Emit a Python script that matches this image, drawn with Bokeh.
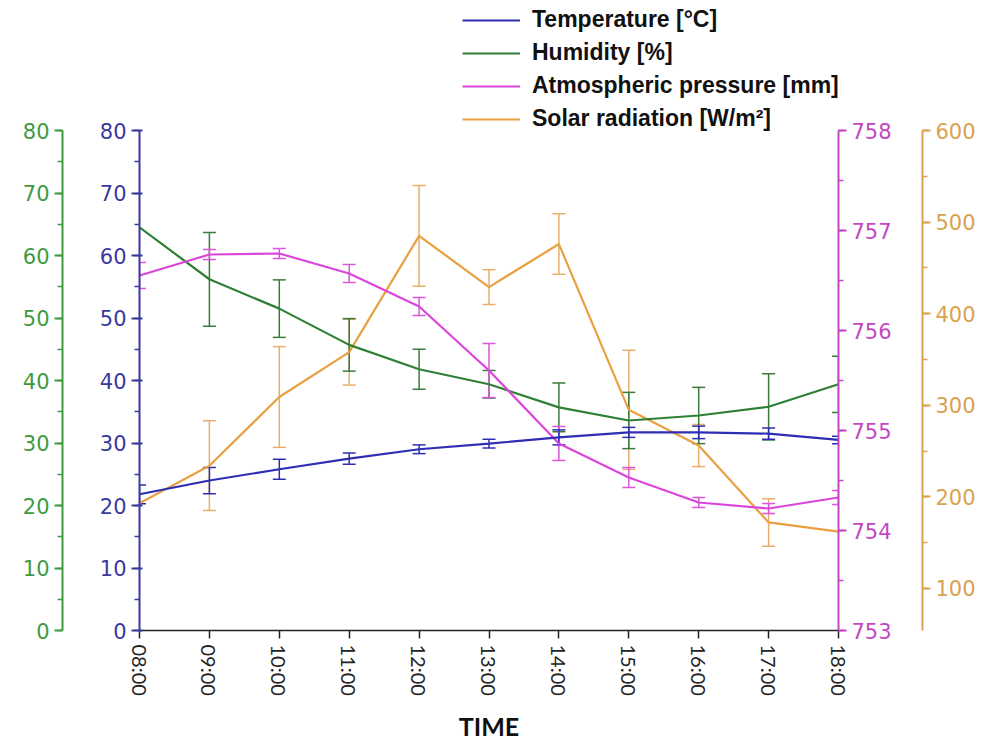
from bokeh.plotting import figure
from bokeh.models import (Range1d, LinearAxis, Whisker, TeeHead, ColumnDataSource,
                          Legend, LegendItem, FixedTicker, SingleIntervalTicker)
from bokeh.layouts import row
from bokeh.embed import file_html
from bokeh.resources import INLINE

hours = [8, 9, 10, 11, 12, 13, 14, 15, 16, 17, 18]
time_labels = ["08:00", "09:00", "10:00", "11:00", "12:00", "13:00",
               "14:00", "15:00", "16:00", "17:00", "18:00"]
temperature = [21.8, 24.0, 25.8, 27.5, 29.0, 29.9, 30.9, 31.7, 31.7, 31.5, 30.5]
temperature_err = [1.5, 2.1, 1.6, 0.9, 0.7, 0.7, 1.2, 0.8, 1.0, 0.9, 0.6]
humidity = [64.5, 56.2, 51.5, 45.7, 41.8, 39.4, 35.7, 33.6, 34.4, 35.8, 39.4]
humidity_err = [0, 7.5, 4.6, 4.2, 3.2, 2.2, 3.9, 4.5, 4.5, 5.3, 4.5]
pressure = [756.55, 756.76, 756.77, 756.57, 756.24, 755.60, 754.87, 754.53, 754.28, 754.22, 754.33]
pressure_err = [0.13, 0.05, 0.05, 0.09, 0.09, 0.27, 0.17, 0.10, 0.05, 0.05, 0.07]
solar = [193, 234, 309, 358, 485, 429, 476, 295, 256, 172, 162]
solar_err = [0, 49, 55, 36, 55, 19, 33, 65, 23, 26, 0]

# axis extents (bounds) and the headroom above them that holds the legend
left_bounds = (0, 80)
pressure_bounds = (753, 758)
solar_bounds = (54, 600)
FRAME_H, AXIS_H = 630, 500
k = FRAME_H / AXIS_H


def padded(b):
    return Range1d(b[0], b[0] + (b[1] - b[0]) * k)


C_TEMP, C_TEMP_AX = "#2e2eb4", "#3a3a9e"
C_HUM, C_HUM_AX = "#2f7f35", "#3f9a3f"
C_PRES, C_PRES_AX = "#dc45dc", "#c446c4"
C_SOL, C_SOL_AX = "#e8a040", "#d9a24e"

TICK_FONT = "DejaVu Sans"


def style_axis(ax, color, bounds, tick_in=0):
    ax.bounds = bounds
    ax.axis_line_color = color
    ax.axis_line_width = 2
    ax.major_tick_line_color = color
    ax.major_tick_line_width = 2
    ax.major_tick_out = 8
    ax.major_tick_in = tick_in
    ax.minor_tick_line_color = color
    ax.minor_tick_line_width = 1.5
    ax.minor_tick_out = 5
    ax.minor_tick_in = 0
    ax.major_label_text_color = color
    ax.major_label_text_font = TICK_FONT
    ax.major_label_text_font_size = "21px"
    ax.major_label_standoff = 5


common = dict(frame_height=FRAME_H, min_border_top=0, min_border_bottom=110,
              toolbar_location=None, output_backend="svg",
              outline_line_color=None, background_fill_color="white",
              border_fill_color="white")

# left-most green humidity axis
fig_g = figure(frame_width=32, min_border_left=62, min_border_right=0,
               x_range=Range1d(0, 1), y_range=padded(left_bounds),
               x_axis_location=None, y_axis_location="left", **common)
fig_g.grid.visible = False
fig_g.yaxis[0].ticker = SingleIntervalTicker(interval=10, num_minor_ticks=2)
style_axis(fig_g.yaxis[0], C_HUM_AX, left_bounds)

# main plot
p = figure(frame_width=699, min_border_left=45, min_border_right=70,
           x_range=Range1d(8, 18), y_range=padded(left_bounds), **common)
p.grid.visible = False
p.extra_y_ranges = {"pressure": padded(pressure_bounds), "solar": padded(solar_bounds)}

p.yaxis[0].ticker = SingleIntervalTicker(interval=10, num_minor_ticks=2)
style_axis(p.yaxis[0], C_TEMP_AX, left_bounds, tick_in=3)

pax = LinearAxis(y_range_name="pressure", ticker=SingleIntervalTicker(interval=1, num_minor_ticks=2))
style_axis(pax, C_PRES_AX, pressure_bounds)
p.add_layout(pax, "right")

xa = p.xaxis[0]
xa.ticker = FixedTicker(ticks=hours)
xa.major_label_overrides = {h: lab for h, lab in zip(hours, time_labels)}
xa.major_label_orientation = "vertical"
xa.axis_line_color = "#222222"
xa.axis_line_width = 1.5
xa.major_tick_line_color = "#222222"
xa.major_tick_line_width = 1.5
xa.major_tick_out = 8
xa.major_tick_in = 0
xa.minor_tick_line_color = None
xa.major_label_text_font = "Lato"
xa.major_label_text_font_size = "20px"
xa.major_label_text_color = "#222222"
xa.major_label_standoff = 6
xa.axis_label = "TIME"
xa.axis_label_text_font = "Lato"
xa.axis_label_text_font_style = "bold"
xa.axis_label_text_font_size = "25px"
xa.axis_label_text_color = "#111111"
xa.axis_label_standoff = 12


def series(vals, errs, color, err_color, rng=None):
    kw = {} if rng is None else {"y_range_name": rng}
    r = p.line(hours, vals, line_color=color, line_width=2.2, **kw)
    xs = [h for h, e in zip(hours, errs) if e > 0]
    up = [v + e for v, e in zip(vals, errs) if e > 0]
    lo = [v - e for v, e in zip(vals, errs) if e > 0]
    src = ColumnDataSource(dict(x=xs, upper=up, lower=lo))
    w = Whisker(base="x", upper="upper", lower="lower", source=src,
                line_color=err_color, line_width=1.5,
                upper_head=TeeHead(size=13, line_color=err_color, line_width=1.5),
                lower_head=TeeHead(size=13, line_color=err_color, line_width=1.5), **kw)
    p.add_layout(w)
    return r


r_sol = series(solar, solar_err, C_SOL, "#e8ae6a", "solar")
r_hum = series(humidity, humidity_err, C_HUM, "#3a7a3a")
r_pres = series(pressure, pressure_err, C_PRES, "#dd55dd", "pressure")
r_temp = series(temperature, temperature_err, C_TEMP, C_TEMP)

legend = Legend(items=[
    LegendItem(label="Temperature [°C]", renderers=[r_temp]),
    LegendItem(label="Humidity [%]", renderers=[r_hum]),
    LegendItem(label="Atmospheric pressure [mm]", renderers=[r_pres]),
    LegendItem(label="Solar radiation [W/m²]", renderers=[r_sol]),
], location=(323, 498))
legend.border_line_color = None
legend.background_fill_alpha = 0
legend.padding = 0
legend.margin = 0
legend.spacing = 6
legend.label_height = 26
legend.glyph_height = 26
legend.glyph_width = 58
legend.label_standoff = 12
legend.label_text_font = "Liberation Sans"
legend.label_text_font_style = "bold"
legend.label_text_font_size = "23px"
legend.label_text_color = "#111111"
p.add_layout(legend)

# right-most orange solar axis
fig_o = figure(frame_width=14, min_border_left=0, min_border_right=62,
               x_range=Range1d(0, 1), y_range=padded(solar_bounds),
               x_axis_location=None, y_axis_location="right", **common)
fig_o.grid.visible = False
fig_o.yaxis[0].ticker = SingleIntervalTicker(interval=100, num_minor_ticks=2)
style_axis(fig_o.yaxis[0], C_SOL_AX, solar_bounds)

layout = row(fig_g, p, fig_o, spacing=0)
open("out.html", "w").write(file_html(layout, INLINE))
